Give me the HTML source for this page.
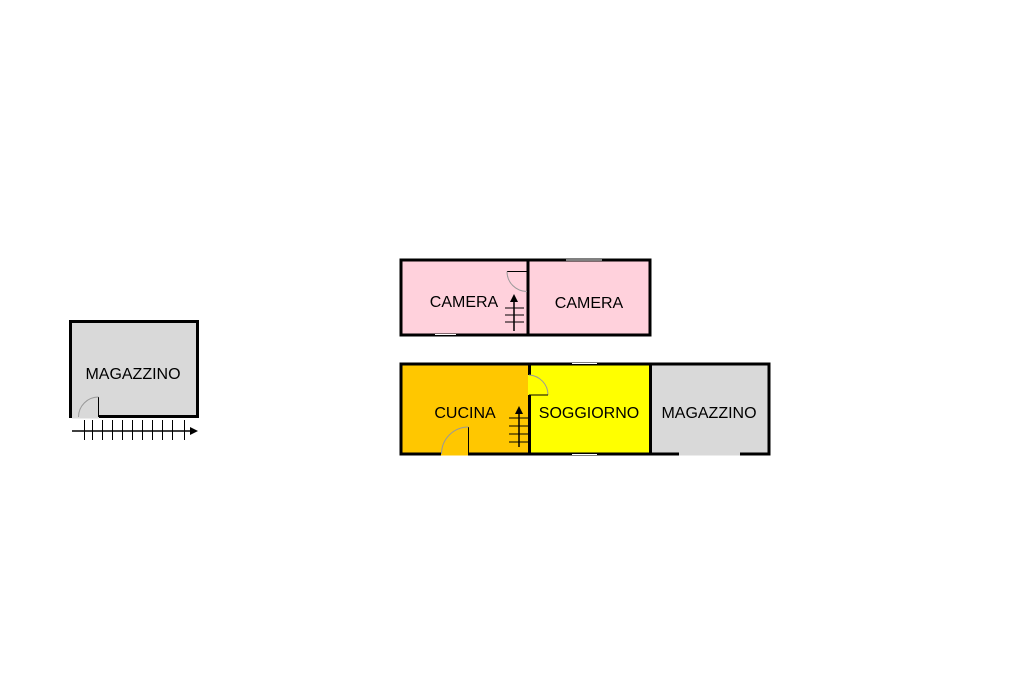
<!DOCTYPE html>
<html><head><meta charset="utf-8"><style>
html,body{margin:0;padding:0;background:#fff;width:1024px;height:682px;overflow:hidden}
text{font-family:"Liberation Sans",sans-serif;font-size:16px;fill:#000}
</style></head><body>
<svg width="1024" height="682" viewBox="0 0 1024 682" xmlns="http://www.w3.org/2000/svg">
<!-- left magazzino -->
<rect x="70.5" y="321.5" width="127" height="95" fill="#d9d9d9" stroke="#000" stroke-width="3"/>
<line x1="72" y1="416.5" x2="99" y2="416.5" stroke="#d9d9d9" stroke-width="4"/>
<line x1="98.5" y1="397" x2="98.5" y2="417" stroke="#000" stroke-width="1"/>
<path d="M98.5 397 A20 20 0 0 0 78.5 417" fill="none" stroke="#999" stroke-width="1"/>
<text x="133" y="379" text-anchor="middle">MAGAZZINO</text>
<line x1="72" y1="431" x2="193" y2="431" stroke="#000" stroke-width="1.5"/>
<polygon points="198,431 190,427 190,435" fill="#000"/>
<g stroke="#000" stroke-width="1">
<line x1="84.5" y1="420" x2="84.5" y2="440"/><line x1="92.5" y1="420" x2="92.5" y2="440"/><line x1="102.5" y1="420" x2="102.5" y2="440"/><line x1="112.5" y1="420" x2="112.5" y2="440"/><line x1="122.5" y1="420" x2="122.5" y2="440"/><line x1="132.5" y1="420" x2="132.5" y2="440"/><line x1="142.5" y1="420" x2="142.5" y2="440"/><line x1="152.5" y1="420" x2="152.5" y2="440"/><line x1="162.5" y1="420" x2="162.5" y2="440"/><line x1="172.5" y1="420" x2="172.5" y2="440"/><line x1="184.5" y1="420" x2="184.5" y2="440"/>
</g>
<!-- top block -->
<rect x="401" y="260" width="127" height="74" fill="#ffd1dc"/>
<rect x="528" y="260" width="122" height="74" fill="#ffd1dc"/>
<rect x="401" y="260" width="249" height="75" fill="none" stroke="#000" stroke-width="3"/>
<line x1="528" y1="260" x2="528" y2="335" stroke="#000" stroke-width="3"/>
<line x1="566" y1="260" x2="602" y2="260" stroke="#fff" stroke-width="1"/>
<line x1="435" y1="334.5" x2="456" y2="334.5" stroke="#fff" stroke-width="1"/>
<line x1="507" y1="271.5" x2="527" y2="271.5" stroke="#000" stroke-width="1"/>
<path d="M507 271.5 A20 20 0 0 0 527 291.5" fill="none" stroke="#999" stroke-width="1"/>
<g stroke="#000" stroke-width="1.5"><line x1="514" y1="299" x2="514" y2="331"/>
<line x1="505" y1="308" x2="524" y2="308" stroke-width="1"/><line x1="505" y1="315" x2="524" y2="315" stroke-width="1"/><line x1="505" y1="322" x2="524" y2="322" stroke-width="1"/></g>
<polygon points="514,294 510,302 518,302" fill="#000"/>
<text x="464" y="307" text-anchor="middle">CAMERA</text>
<text x="589" y="308" text-anchor="middle">CAMERA</text>
<!-- bottom block -->
<rect x="401" y="364" width="128" height="90" fill="#ffc700"/>
<rect x="529" y="364" width="121" height="90" fill="#ffff00"/>
<rect x="650" y="364" width="119" height="90" fill="#d9d9d9"/>
<rect x="401" y="364" width="368" height="90" fill="none" stroke="#000" stroke-width="3"/>
<line x1="529.5" y1="364" x2="529.5" y2="454" stroke="#000" stroke-width="3"/>
<line x1="650.5" y1="364" x2="650.5" y2="454" stroke="#000" stroke-width="3"/>
<line x1="529.5" y1="375" x2="529.5" y2="395" stroke="#ffff00" stroke-width="3"/>
<line x1="529" y1="375" x2="548" y2="375" stroke="#000" stroke-width="1" opacity="0"/>
<path d="M529 375 A20 20 0 0 1 548 395" fill="none" stroke="#999" stroke-width="1"/>
<line x1="529" y1="395" x2="548" y2="395" stroke="#000" stroke-width="1"/>
<line x1="572" y1="363.5" x2="597" y2="363.5" stroke="#fff" stroke-width="1"/>
<line x1="572" y1="454.5" x2="597" y2="454.5" stroke="#fff" stroke-width="1"/>
<line x1="441" y1="454" x2="468" y2="454" stroke="#ffc700" stroke-width="3"/>
<line x1="468.5" y1="427" x2="468.5" y2="454" stroke="#000" stroke-width="1"/>
<path d="M468.5 427 A27 27 0 0 0 441.5 454" fill="none" stroke="#999" stroke-width="1"/>
<line x1="679" y1="454" x2="740" y2="454" stroke="#d9d9d9" stroke-width="3"/>
<g stroke="#000"><line x1="519" y1="412" x2="519" y2="447" stroke-width="1.5"/>
<line x1="509" y1="418" x2="528" y2="418"/><line x1="509" y1="426" x2="528" y2="426"/><line x1="509" y1="434" x2="528" y2="434"/><line x1="509" y1="442" x2="528" y2="442"/></g>
<polygon points="519,406 515,414 523,414" fill="#000"/>
<text x="465" y="418" text-anchor="middle">CUCINA</text>
<text x="589" y="418" text-anchor="middle">SOGGIORNO</text>
<text x="709" y="418" text-anchor="middle">MAGAZZINO</text>
</svg>
</body></html>
